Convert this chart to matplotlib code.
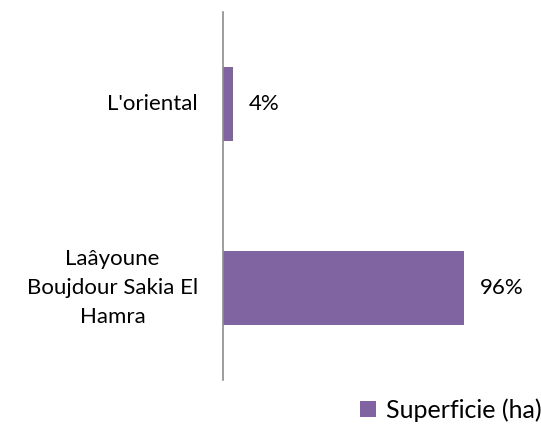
import matplotlib.pyplot as plt

regions = ["Laâyoune\nBoujdour Sakia El\nHamra", "L'oriental"]
shares = [0.96, 0.04]
series = "Superficie (ha)"

plt.rcParams['font.family'] = ['Lato', 'DejaVu Sans']

fig = plt.figure(figsize=(5.41, 4.30), dpi=100)
ax = fig.add_axes([223/541, 1 - 380/430, 251/541, 368/430])

bars = ax.barh(range(len(regions)), shares, height=0.4, color='#8064A2', label=series)
ax.set_xlim(0, 1)
ax.set_ylim(-0.5, 1.5)

for b, v in zip(bars, shares):
    ax.annotate(f"{v*100:.0f}%", (b.get_width(), b.get_y() + b.get_height()/2),
                xytext=(16, 0), textcoords='offset pixels',
                ha='left', va='center', fontsize=16)

ax.set_yticks(range(len(regions)))
ax.set_yticklabels(regions, fontsize=16, multialignment='center', linespacing=1.55,
                   va='center')
ax.tick_params(axis='y', length=0, pad=18)
ax.set_xticks([])
for s in ['top', 'right', 'bottom']:
    ax.spines[s].set_visible(False)
ax.spines['left'].set_color('#8c8c8c')
ax.spines['left'].set_linewidth(1.2)

fig.legend(loc='lower right', bbox_to_anchor=(1.024, -0.01), frameon=False,
           fontsize=18, handlelength=0.65, handleheight=0.65, handletextpad=0.4,
           borderaxespad=0.1)

fig.savefig("out.png", dpi=100)
